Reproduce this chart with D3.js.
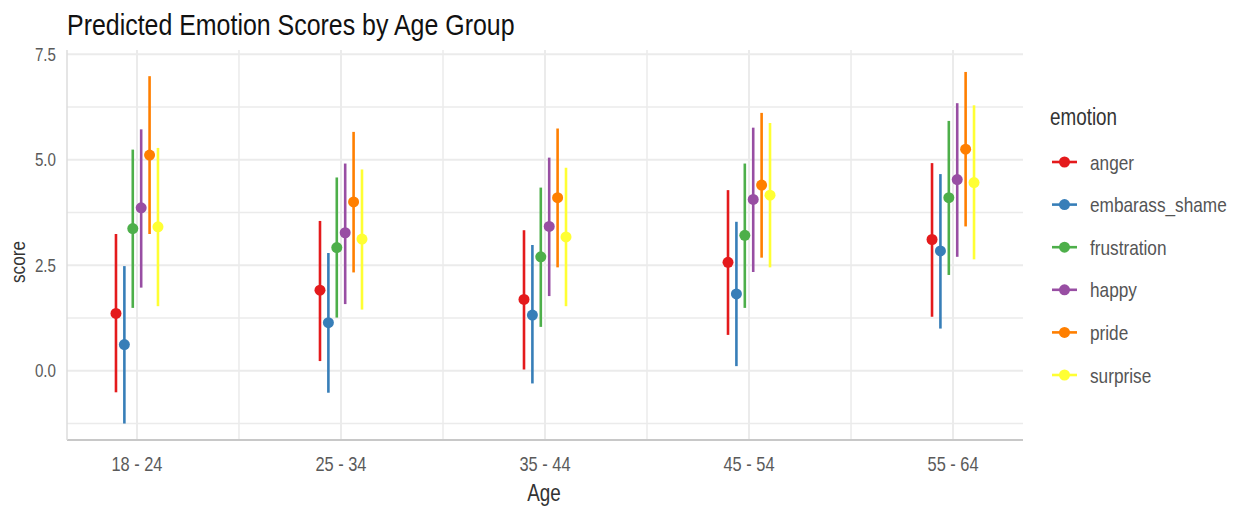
<!DOCTYPE html>
<meta charset="utf-8">
<title>Predicted Emotion Scores by Age Group</title>
<style>
body { margin: 0; background: #fff; }
svg { display: block; }
text { font-family: "Liberation Sans", Arial, sans-serif; }
.grid line { stroke: #ebebeb; }
.tick-label { fill: #5a5a5a; }
</style>
<script src="https://cdnjs.cloudflare.com/ajax/libs/d3/7.8.5/d3.min.js"></script>
<body>
<script>

var width = 1241, height = 510;

// data
var ages = ["18 - 24", "25 - 34", "35 - 44", "45 - 54", "55 - 64"];
var emotions = ["anger", "embarass_shame", "frustration", "happy", "pride", "surprise"];
var colours = ["#e41a1c", "#377eb8", "#4daf4a", "#984ea3", "#ff7f00", "#ffff33"];

// one row per emotion, one value per age group
var est = [
  [1.36, 1.91, 1.69, 2.57, 3.11],
  [0.62, 1.14, 1.32, 1.82, 2.84],
  [3.37, 2.92, 2.70, 3.21, 4.10],
  [3.86, 3.27, 3.42, 4.06, 4.53],
  [5.11, 4.00, 4.10, 4.40, 5.25],
  [3.41, 3.12, 3.17, 4.16, 4.46]
];
var lower = [
  [-0.51, 0.23, 0.03, 0.85, 1.28],
  [-1.25, -0.52, -0.30, 0.11, 1.00],
  [1.49, 1.26, 1.04, 1.49, 2.27],
  [1.97, 1.58, 1.77, 2.34, 2.70],
  [3.24, 2.33, 2.45, 2.68, 3.42],
  [1.53, 1.45, 1.53, 2.45, 2.64]
];
var upper = [
  [3.24, 3.55, 3.33, 4.28, 4.92],
  [2.48, 2.79, 2.98, 3.53, 4.66],
  [5.24, 4.58, 4.34, 4.91, 5.92],
  [5.72, 4.91, 5.05, 5.76, 6.34],
  [6.98, 5.66, 5.74, 6.11, 7.08],
  [5.28, 4.77, 4.81, 5.87, 6.29]
];
var yTicks = [0, 2.5, 5.0, 7.5];
var yMinor = [-1.25, 1.25, 3.75, 6.25];

var margin = {top: 50, left: 67, right: 218, bottom: 70};
var plotRight = width - margin.right, plotBottom = height - margin.bottom;

// the original uses a narrow face; squeeze regular Liberation Sans instead
var narrow = 0.82;
function place(x, y) { return "translate(" + x + "," + y + ") scale(" + narrow + ",1)"; }

var svg = d3.select("body").append("svg")
    .attr("width", width)
    .attr("height", height);

var x = d3.scalePoint()
    .domain(ages)
    .range([margin.left, plotRight])
    .padding(0.343);

var dodge = d3.scalePoint()
    .domain(emotions)
    .range([-21, 21]);

var y = d3.scaleLinear()
    .domain([-1.64, 7.6])
    .range([plotBottom, margin.top]);

var colour = d3.scaleOrdinal().domain(emotions).range(colours);

// grid
var grid = svg.append("g").attr("class", "grid");
grid.selectAll("line.ymin").data(yMinor).enter().append("line")
    .attr("x1", margin.left).attr("x2", plotRight)
    .attr("y1", y).attr("y2", y)
    .attr("stroke-width", 1.5);
grid.selectAll("line.ymaj").data(yTicks).enter().append("line")
    .attr("x1", margin.left).attr("x2", plotRight)
    .attr("y1", y).attr("y2", y)
    .attr("stroke-width", 2);
var step = x.step();
grid.selectAll("line.xmin").data(ages.slice(1)).enter().append("line")
    .attr("x1", function(d) { return x(d) - step / 2; })
    .attr("x2", function(d) { return x(d) - step / 2; })
    .attr("y1", margin.top).attr("y2", plotBottom)
    .attr("stroke-width", 1.5);
grid.selectAll("line.xmaj").data(ages).enter().append("line")
    .attr("x1", x).attr("x2", x)
    .attr("y1", margin.top).attr("y2", plotBottom)
    .attr("stroke-width", 2);

// axis lines
svg.append("line")
    .attr("x1", margin.left).attr("x2", plotRight)
    .attr("y1", plotBottom).attr("y2", plotBottom)
    .attr("stroke", "#c8c8c8").attr("stroke-width", 2);
svg.append("line")
    .attr("x1", margin.left).attr("x2", margin.left)
    .attr("y1", margin.top).attr("y2", plotBottom)
    .attr("stroke", "#dcdcdc").attr("stroke-width", 1.5);

// point ranges
var rows = [];
emotions.forEach(function(e, i) {
  ages.forEach(function(a, j) {
    rows.push({emotion: e, age: a, est: est[i][j], lo: lower[i][j], hi: upper[i][j]});
  });
});

var marks = svg.append("g").selectAll("g").data(rows).enter().append("g")
    .attr("transform", function(d) { return "translate(" + (x(d.age) + dodge(d.emotion)) + ",0)"; });
marks.append("line")
    .attr("y1", function(d) { return y(d.lo); })
    .attr("y2", function(d) { return y(d.hi); })
    .attr("stroke", function(d) { return colour(d.emotion); })
    .attr("stroke-width", 2.6);
marks.append("circle")
    .attr("cy", function(d) { return y(d.est); })
    .attr("r", 5.5)
    .attr("fill", function(d) { return colour(d.emotion); });

// tick labels
svg.selectAll("text.ytick").data(yTicks).enter().append("text")
    .attr("class", "tick-label")
    .attr("transform", function(d) { return place(56, y(d)); })
    .attr("dy", "0.36em")
    .attr("font-size", 18.5)
    .attr("text-anchor", "end")
    .text(d3.format(".1f"));
svg.selectAll("text.xtick").data(ages).enter().append("text")
    .attr("class", "tick-label")
    .attr("transform", function(d) { return place(x(d), 471); })
    .attr("font-size", 20)
    .attr("text-anchor", "middle")
    .text(function(d) { return d; });

// titles
svg.append("text")
    .attr("transform", "translate(67,35) scale(0.86,1)")
    .attr("font-size", 29).attr("fill", "#111")
    .text("Predicted Emotion Scores by Age Group");
svg.append("text")
    .attr("transform", place(544, 501))
    .attr("text-anchor", "middle")
    .attr("font-size", 23).attr("fill", "#333")
    .text("Age");
svg.append("text")
    .attr("transform", "translate(25,262) rotate(-90) scale(" + narrow + ",1)")
    .attr("text-anchor", "middle")
    .attr("font-size", 21).attr("fill", "#333")
    .text("score");

// legend
var legend = svg.append("g").attr("transform", "translate(1048,0)");
legend.append("text")
    .attr("transform", place(2, 125))
    .attr("font-size", 23).attr("fill", "#333")
    .text("emotion");
var item = legend.selectAll("g.item").data(emotions).enter().append("g")
    .attr("transform", function(d, i) { return "translate(0," + (162 + i * 42.6) + ")"; });
item.append("line")
    .attr("x1", 4).attr("x2", 29)
    .attr("stroke", colour).attr("stroke-width", 2.6);
item.append("circle")
    .attr("cx", 16.5).attr("r", 5.5)
    .attr("fill", colour);
item.append("text")
    .attr("transform", place(42, 0))
    .attr("dy", "0.36em")
    .attr("font-size", 21).attr("fill", "#555")
    .text(function(d) { return d; });

</script>
